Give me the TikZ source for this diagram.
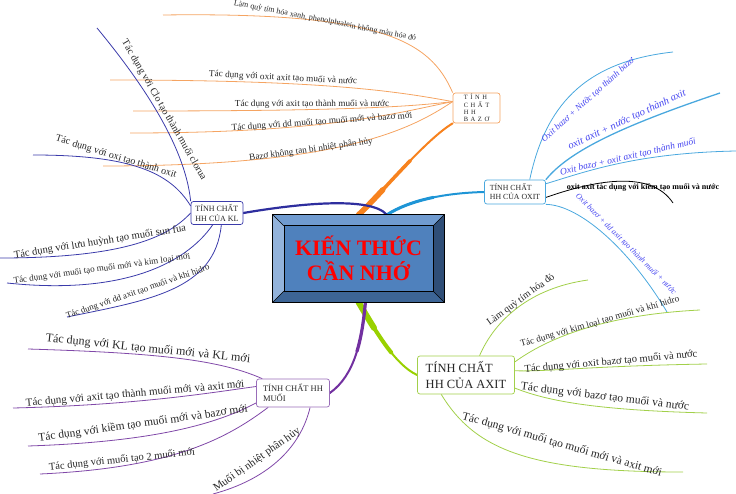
\documentclass[tikz,border=0pt]{standalone}
\usepackage{fontspec}
\setmainfont{Liberation Serif}
\newfontfamily\spacedfont[LetterSpace=40]{Liberation Serif}
\usepackage{tikz}
\usetikzlibrary{positioning, calc, backgrounds}

\definecolor{bazoOrange}{HTML}{F7821E}
\definecolor{bazoTwig}{HTML}{F5A462}
\definecolor{oxitBlue}{HTML}{1E95D6}
\definecolor{oxitTwig}{HTML}{4AA8DE}
\definecolor{oxitText}{HTML}{4646F0}
\definecolor{klNavy}{HTML}{2E2E9E}
\definecolor{klTwig}{HTML}{3B3BAA}
\definecolor{muoiPurple}{HTML}{7230A0}
\definecolor{muoiTwig}{HTML}{8048A8}
\definecolor{axitGreen}{HTML}{99D100}
\definecolor{axitTwig}{HTML}{A2D04A}
\definecolor{hubFace}{HTML}{4F81BD}
\definecolor{hubTop}{HTML}{709BD0}
\definecolor{hubLeft}{HTML}{93B3DB}
\definecolor{hubRight}{HTML}{2F4E77}
\definecolor{hubBottom}{HTML}{3D6596}
\definecolor{leafText}{HTML}{262626}

\begin{document}
\begin{tikzpicture}[x=1pt, y=-1pt,
        hub/.style={fill=hubFace, minimum width=171pt, minimum height=87pt, inner sep=0pt, align=center, text=red, font=\fontsize{22}{25}\selectfont\bfseries},
        topic/.style={draw, fill=white, rounded corners=2.5pt, line width=0.7pt, align=left, inner sep=0pt, text=leafText},
        leaf/.style={inner sep=0pt, text=leafText},
        oxleaf/.style={leaf, text=oxitText},
        twig/.style={line width=0.8pt},
        limb/.style={line cap=round}
    ]
        \useasboundingbox (0,0) rectangle (736,494);
        % topics
        \node[hub] (hub) at (358.5,258.5) {KIẾN THỨC\\CẦN NHỚ};
        \fill[hubTop] (hub.north west) -- (hub.north east) -- ($(hub.north east)+(-11,11)$) -- ($(hub.north west)+(11,11)$) -- cycle;
        \fill[hubLeft] (hub.north west) -- ($(hub.north west)+(11,11)$) -- ($(hub.south west)+(11,-11)$) -- (hub.south west) -- cycle;
        \fill[hubRight] (hub.north east) -- (hub.south east) -- ($(hub.south east)+(-11,-11)$) -- ($(hub.north east)+(-11,11)$) -- cycle;
        \fill[hubBottom] (hub.south west) -- ($(hub.south west)+(11,-11)$) -- ($(hub.south east)+(-11,-11)$) -- (hub.south east) -- cycle;
        \draw[line width=0.8pt] (hub.north west) rectangle (hub.south east);
        \draw[line width=0.6pt] ($(hub.north west)+(11,11)$) rectangle ($(hub.south east)+(-11,-11)$);
        \foreach \c/\dx/\dy in {north west/11/11, north east/-11/11, south west/11/-11, south east/-11/-11}
            \draw[line width=0.5pt] (hub.\c) -- ++(\dx,\dy);

        \node[topic, draw=bazoTwig, minimum width=47pt, minimum height=30pt, font=\spacedfont\fontsize{6.5}{7.3}\selectfont] (bazo) at (476.5,108) {TÍNH\\CHẤT\\HH\\BAZƠ};
        \node[topic, draw=oxitTwig, minimum width=61pt, minimum height=24pt, font=\fontsize{7.8}{9}\selectfont] (oxit) at (515,192) {TÍNH CHẤT\\HH CỦA OXIT};
        \node[topic, draw=klTwig, minimum width=52pt, minimum height=23pt, font=\fontsize{8}{9.5}\selectfont] (kl) at (217,213) {TÍNH CHẤT\\HH CỦA KL};
        \node[topic, draw=muoiTwig!80, minimum width=73pt, minimum height=28pt, font=\fontsize{8.5}{10.5}\selectfont] (muoi) at (293,393) {TÍNH CHẤT HH\\MUỐI};
        \node[topic, draw=axitTwig, minimum width=97pt, minimum height=38pt, font=\fontsize{12.5}{16}\selectfont] (axit) at (466,375) {TÍNH CHẤT\\HH CỦA AXIT};

        % leaves
        \node[leaf, font=\fontsize{8}{9}\selectfont, rotate=-11] (b1) at (325,21) {Làm quỳ tím hóa xanh, phenolphtalein không màu hóa đỏ};
        \node[leaf, font=\fontsize{9.2}{10}\selectfont, rotate=-3] (b2) at (283,78) {Tác dụng với oxit axit tạo muối và nước};
        \node[leaf, font=\fontsize{9.2}{10}\selectfont] (b3) at (312,104) {Tác dụng với axit tạo thành muối và nước};
        \node[leaf, font=\fontsize{9.2}{10}\selectfont, rotate=4] (b4) at (322,122) {Tác dụng với dd muối tạo muối mới và bazơ mới};
        \node[leaf, font=\fontsize{9.2}{10}\selectfont, rotate=8] (b5) at (311,150) {Bazơ không tan bị nhiệt phân hủy};

        \node[oxleaf, font=\itshape\fontsize{9}{10}\selectfont, rotate=42] (o1) at (588,100) {Oxit bazơ + Nước tạo thành bazơ};
        \node[oxleaf, font=\itshape\fontsize{10.5}{12}\selectfont, rotate=25] (o2) at (627,120) {oxit axit + nước tạo thành axit};
        \node[oxleaf, font=\itshape\fontsize{9.5}{10}\selectfont, rotate=13] (o3) at (628,157) {Oxit bazơ + oxit axit tạo thành muối};
        \node[leaf, text=black, font=\bfseries\fontsize{8}{9}\selectfont] (o4) at (643,187) {oxit axit tác dụng với kiềm tạo muối và nước};
        \node[oxleaf, font=\itshape\fontsize{8}{9}\selectfont, rotate=-45] (o5) at (626,244) {Oxit bazơ + dd axit tạo thành muối + nước};

        \node[leaf, font=\fontsize{10}{11}\selectfont, rotate=-60] (k1) at (164,110) {Tác dụng với Clo tạo thành muối clorua};
        \node[leaf, font=\fontsize{10}{11}\selectfont, rotate=-17] (k2) at (116,157) {Tác dụng với oxi tạo thành oxit};
        \node[leaf, font=\fontsize{10.5}{12}\selectfont, rotate=9] (k3) at (100,242) {Tác dụng với lưu huỳnh tạo muối sun fua};
        \node[leaf, font=\fontsize{9}{10}\selectfont, rotate=8] (k4) at (102,269) {Tác dụng với muối tạo muối mới và kim loại mới};
        \node[leaf, font=\fontsize{8.8}{10}\selectfont, rotate=19] (k5) at (138,292) {Tác dụng với dd axit tạo muối và khí hidro};

        \node[leaf, font=\fontsize{12}{13}\selectfont, rotate=-6] (m1) at (148,349) {Tác dụng với KL tạo muối mới và KL mới};
        \node[leaf, font=\fontsize{11}{12}\selectfont, rotate=5] (m2) at (135,394) {Tác dụng với axit tạo thành muối mới và axit mới};
        \node[leaf, font=\fontsize{11.5}{12}\selectfont, rotate=8] (m3) at (143,424) {Tác dụng với kiềm tạo muối mới và bazơ mới};
        \node[leaf, font=\fontsize{10.5}{12}\selectfont, rotate=6] (m4) at (122,460) {Tác dụng với muối tạo 2 muối mới};
        \node[leaf, font=\fontsize{11}{12}\selectfont, rotate=35] (m5) at (257,460) {Muối bị nhiệt phân hủy};

        \node[leaf, font=\fontsize{10}{11}\selectfont, rotate=36] (a1) at (521,300) {Làm quỳ tím hóa đỏ};
        \node[leaf, font=\fontsize{9.3}{10}\selectfont, rotate=16] (a2) at (600,322) {Tác dụng với kim loại tạo muối và khí hidro};
        \node[leaf, font=\fontsize{10.5}{12}\selectfont, rotate=5] (a3) at (611,362) {Tác dụng với oxit bazơ tạo muối và nước};
        \node[leaf, font=\fontsize{11.5}{12}\selectfont, rotate=-7] (a4) at (605,397) {Tác dụng với bazơ tạo muối và nước};
        \node[leaf, font=\fontsize{11.5}{12}\selectfont, rotate=-16] (a5) at (562,445) {Tác dụng với muối tạo muối mới và axit mới};

        % free ends
        \coordinate (b1tip) at (163,15);
        \coordinate (b2tip) at (110,80);
        \coordinate (b3tip) at (133,111);
        \coordinate (b4tip) at (130,133);
        \coordinate (b5tip) at (103,166);
        \coordinate (o1tip) at (673,52);
        \coordinate (o2tip) at (720,93);
        \coordinate (o3tip) at (736,151);
        \coordinate (o4tip) at (673,203);
        \coordinate (o5tip) at (667,312);
        \coordinate (k1tip) at (97,28);
        \coordinate (k2tip) at (33,155);
        \coordinate (k3tip) at (0,258);
        \coordinate (k4tip) at (7,283);
        \coordinate (k5tip) at (67,317);
        \coordinate (m1tip) at (28,349);
        \coordinate (m2tip) at (13,408);
        \coordinate (m3tip) at (28,446);
        \coordinate (m4tip) at (40,474);
        \coordinate (m5tip) at (213,494);
        \coordinate (a1tip) at (588,280);
        \coordinate (a2tip) at (700,310);
        \coordinate (a3tip) at (707,364);
        \coordinate (a4tip) at (707,413);
        \coordinate (a5tip) at (683,472);

        \begin{scope}[on background layer]
            \draw[twig, bazoTwig] (bazo.north west) .. controls (430,40) and (380,12) .. (b1tip);
            \draw[twig, bazoTwig] (bazo.165) .. controls (400,92) and (330,80) .. (b2tip);
            \draw[twig, bazoTwig] (bazo.165) .. controls (400,108) and (320,111) .. (b3tip);
            \draw[twig, bazoTwig] (bazo.165) .. controls (400,112) and (330,133) .. (b4tip);
            \draw[twig, bazoTwig] (bazo.165) .. controls (410,130) and (340,166) .. (b5tip);

            \draw[twig, oxitTwig] (oxit.40) .. controls (545,108) and (582,62) .. (o1tip);
            \draw[twig, oxitTwig, line width=1.3pt] (oxit.north east) .. controls (570,150) and (625,125) .. (o2tip);
            \draw[twig, oxitTwig] (oxit.15) .. controls (585,172) and (635,153) .. (o3tip);
            \draw[twig, black] (oxit.-10) .. controls (590,182) and (650,168) .. (o4tip);
            \draw[twig, oxitTwig] (oxit.south east) .. controls (580,205) and (630,250) .. (o5tip);

            \draw[twig, klTwig] (kl.north west) .. controls (185,145) and (140,80) .. (k1tip);
            \draw[twig, klTwig] (kl.165) .. controls (170,172) and (130,155) .. (k2tip);
            \draw[twig, klTwig] (kl.west) .. controls (170,235) and (130,258) .. (k3tip);
            \draw[twig, klTwig] (kl.-110) .. controls (185,265) and (120,295) .. (k4tip);
            \draw[twig, klTwig] (kl.-70) .. controls (215,290) and (150,300) .. (k5tip);

            \draw[twig, muoiTwig] (muoi.155) .. controls (220,360) and (160,353) .. (m1tip);
            \draw[twig, muoiTwig] (muoi.170) .. controls (215,392) and (140,405) .. (m2tip);
            \draw[twig, muoiTwig] (muoi.-165) .. controls (215,425) and (150,442) .. (m3tip);
            \draw[twig, muoiTwig] (muoi.-150) .. controls (225,440) and (170,468) .. (m4tip);
            \draw[twig, muoiTwig] (muoi.-40) .. controls (300,450) and (265,480) .. (m5tip);

            \draw[twig, axitTwig] (axit.55) .. controls (495,320) and (530,288) .. (a1tip);
            \draw[twig, axitTwig] (axit.15) .. controls (545,340) and (600,315) .. (a2tip);
            \draw[twig, axitTwig] (axit.5) .. controls (545,372) and (590,366) .. (a3tip);
            \draw[twig, axitTwig] (axit.-15) .. controls (545,400) and (590,410) .. (a4tip);
            \draw[twig, axitTwig] (axit.-142) .. controls (475,450) and (530,472) .. (a5tip);

            % main limbs, thicker near the hub
            \foreach \w/\len in {2pt/600pt, 3.5pt/75pt, 5.5pt/35pt}
                \draw[limb, bazoOrange, line width=\w, dash pattern=on \len off 600pt] (hub.north) .. controls (380,195) and (425,140) .. (bazo.south west);
            \foreach \w/\len in {2pt/600pt, 3pt/50pt}
                \draw[limb, oxitBlue, line width=\w, dash pattern=on \len off 600pt] (hub.57) .. controls (410,200) and (445,193) .. (oxit.west);
            \draw[limb, klNavy, line width=2.2pt] (kl.east) .. controls (290,205) and (370,195) .. (hub.57);
            \foreach \w/\len in {2pt/600pt, 4pt/60pt, 6pt/30pt}
                \draw[limb, axitGreen, line width=\w, dash pattern=on \len off 600pt] (hub.south) .. controls (375,330) and (395,365) .. (axit.west);
            \foreach \w/\len in {2pt/600pt, 3.2pt/50pt}
                \draw[limb, muoiPurple, line width=\w, dash pattern=on \len off 600pt] (hub.-81) .. controls (362,340) and (355,375) .. (muoi.east);
        \end{scope}
    \end{tikzpicture}
\end{document}
